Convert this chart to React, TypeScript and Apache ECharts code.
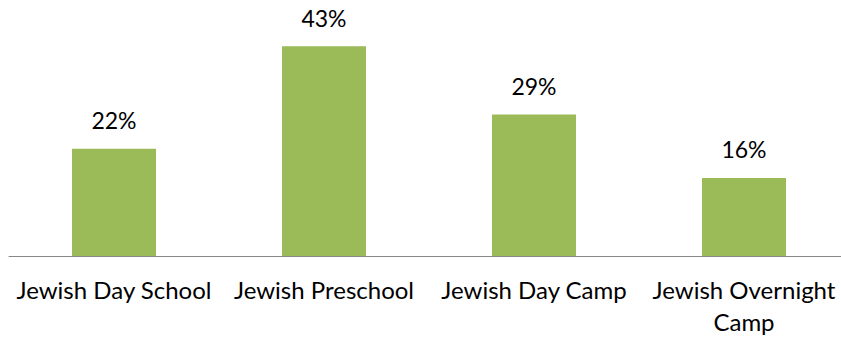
import React, { useEffect, useRef } from "react";
import * as echarts from "echarts";

const categories = [
  "Jewish Day School",
  "Jewish Preschool",
  "Jewish Day Camp",
  "Jewish Overnight\nCamp",
];
const values = [22, 43, 29, 16];

export default function App() {
  const ref = useRef<HTMLDivElement>(null);
  useEffect(() => {
    if (!ref.current) return;
    const chart = echarts.init(ref.current, null, { renderer: "svg" });
    const font = "Lato, 'Open Sans', sans-serif";
    chart.setOption({
      animation: false,
      backgroundColor: "#ffffff",
      grid: { left: 9, right: 0, top: 12, bottom: 81 },
      xAxis: {
        type: "category",
        data: categories,
        axisLine: { show: true, lineStyle: { color: "#878787", width: 1 } },
        axisTick: { show: false },
        axisLabel: {
          color: "#000000",
          fontFamily: font,
          fontSize: 24,
          lineHeight: 32,
          margin: 17,
          interval: 0,
        },
      },
      yAxis: {
        type: "value",
        min: 0,
        max: 50,
        show: false,
        splitLine: { show: false },
      },
      series: [
        {
          type: "bar",
          data: values,
          barWidth: "40%",
          itemStyle: { color: "#9BBB59" },
          label: {
            show: true,
            position: "top",
            distance: 17,
            formatter: "{c}%",
            color: "#000000",
            fontFamily: font,
            fontSize: 23,
          },
        },
      ],
    });
    return () => chart.dispose();
  }, []);
  return (
    <div
      style={{
        position: "fixed",
        left: 0,
        top: 0,
        width: 841,
        height: 337,
        overflow: "hidden",
        background: "#ffffff",
      }}
    >
      <div ref={ref} style={{ width: 849, height: 337 }} />
    </div>
  );
}
